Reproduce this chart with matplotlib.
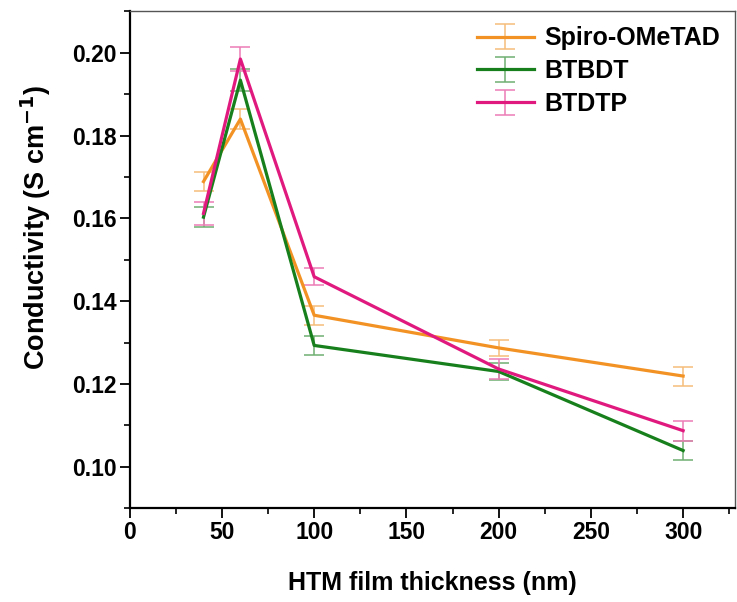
import matplotlib
matplotlib.use("Agg")
import matplotlib.pyplot as plt
from matplotlib.ticker import MultipleLocator
import numpy as np


thickness = [40, 60, 100, 200, 300]

spiro     = [0.1689, 0.1840, 0.1366, 0.1287, 0.1219]
spiro_err = [0.0024, 0.0024, 0.0023, 0.0020, 0.0023]

btbdt     = [0.1603, 0.1934, 0.1293, 0.1230, 0.1039]
btbdt_err = [0.0024, 0.0027, 0.0023, 0.0021, 0.0022]

btdtp     = [0.1612, 0.1985, 0.1459, 0.1236, 0.1087]
btdtp_err = [0.0027, 0.0028, 0.0021, 0.0025, 0.0024]

labels = ["Spiro-OMeTAD", "BTBDT", "BTDTP"]
colors = ["#F39224", "#17801C", "#E0197E"]
err_colors = ["#F7BD7A", "#6FAF72", "#EC7DB6"]


plt.rcParams['font.family'] = ['Liberation Sans', 'DejaVu Sans']
plt.rcParams['font.weight'] = 'bold'
plt.rcParams['mathtext.default'] = 'bf'

fig = plt.figure(figsize = (7.37, 6.02), dpi = 100)
ax  = fig.add_axes([0.176, 0.156, 0.821, 0.825])

series = [(spiro, spiro_err), (btbdt, btbdt_err), (btdtp, btdtp_err)]
for (vals, errs), lab, c, ec in zip(series, labels, colors, err_colors):
    ax.errorbar(thickness, vals, yerr = errs, color = c, lw = 2.3,
                ecolor = ec, elinewidth = 1.1, capsize = 7, capthick = 1.1,
                label = lab)

ax.set_xlim(0, 328)
ax.set_ylim(0.09, 0.21)
ax.xaxis.set_major_locator(MultipleLocator(50))
ax.xaxis.set_minor_locator(MultipleLocator(25))
ax.yaxis.set_major_locator(MultipleLocator(0.02))
ax.yaxis.set_minor_locator(MultipleLocator(0.01))
ax.yaxis.set_major_formatter(plt.FuncFormatter(lambda v, p: "%.2f" % v))

ax.tick_params(which = 'major', direction = 'out', length = 7, width = 1.3,
               labelsize = 16.5, pad = 2.5)
ax.tick_params(which = 'minor', direction = 'out', length = 4, width = 1.2)
ax.tick_params(top = False, right = False, which = 'both')

for s in ['left', 'bottom']:
    ax.spines[s].set_linewidth(1.6)
for s in ['top', 'right']:
    ax.spines[s].set_linewidth(1.0)
    ax.spines[s].set_color('#555555')

ax.set_xlabel('HTM film thickness (nm)', fontsize = 18, fontweight = 'bold', labelpad = 19)
ax.set_ylabel('Conductivity (S cm$^{-1}$)', fontsize = 19.5, fontweight = 'bold')
ax.yaxis.set_label_coords(-0.126, 0.565)

leg = ax.legend(loc = 'upper right', frameon = False, fontsize = 18,
                handlelength = 2.3, handletextpad = 0.4, labelspacing = 0.35,
                borderaxespad = 0.2, bbox_to_anchor = (1.0, 1.0))
for t in leg.get_texts():
    t.set_fontweight('bold')

fig.savefig('out.png', dpi = 100)
